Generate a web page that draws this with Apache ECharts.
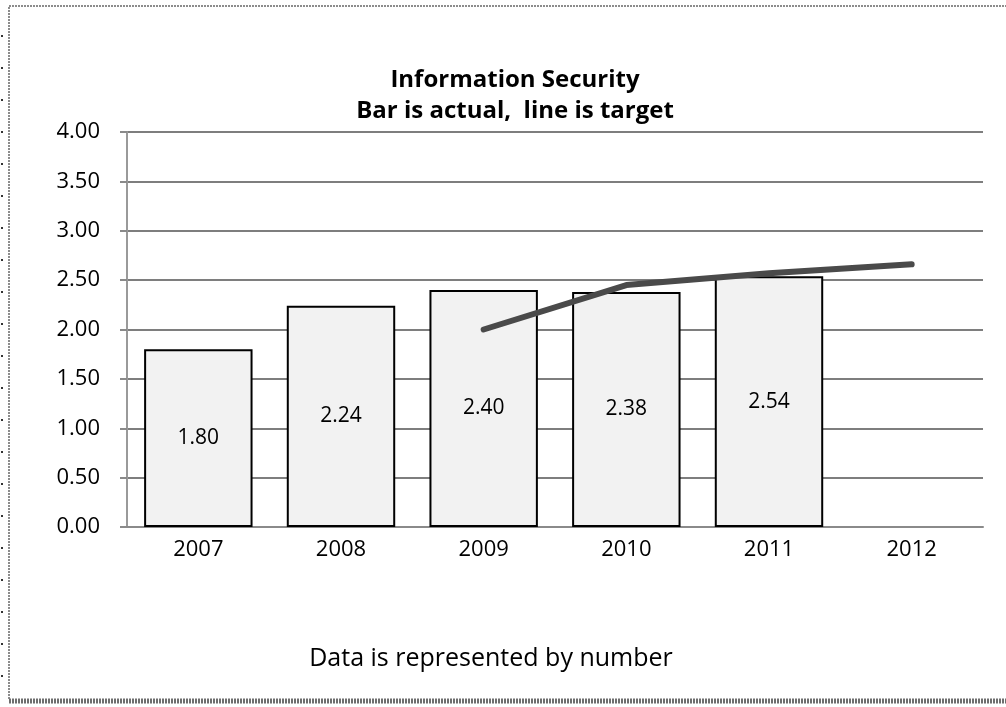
<!DOCTYPE html>
<html>
<head>
<meta charset="utf-8">
<script src="https://cdn.jsdelivr.net/npm/echarts@6/dist/echarts.min.js"></script>
<style>
  html, body { margin: 0; padding: 0; background: #fff; }
  #chart { width: 1006px; height: 707px; }
</style>
</head>
<body>
<div id="chart"></div>
<script>
// Yearly information security scores
const years = ['2007', '2008', '2009', '2010', '2011', '2012'];
const actual = [1.80, 2.24, 2.40, 2.38, 2.54, null];
const target = [null, null, 2.00, 2.45, 2.57, 2.66];
const yTicks = { min: 0, max: 4, interval: 0.5 };

const FONT = 'Open Sans';
const chart = echarts.init(document.getElementById('chart'), null, { renderer: 'canvas' });

// Frame around the chart and small marks along the left edge
const frame = [
  { type: 'rect', shape: { x: 9, y: 6, width: 1010, height: 694 },
    style: { fill: 'none', stroke: '#8c8c8c', lineWidth: 2, lineDash: [2, 1] }, silent: true },
  { type: 'line', shape: { x1: 9, y1: 701, x2: 1006, y2: 701 },
    style: { stroke: '#6e6e6e', lineWidth: 5, lineDash: [2, 1] }, silent: true }
];
for (let y = 35; y < 700; y += 32) {
  frame.push({ type: 'rect', shape: { x: 1, y: y, width: 2, height: 2 }, style: { fill: '#333' }, silent: true });
}

chart.setOption({
  animation: false,
  backgroundColor: '#fff',
  textStyle: { fontFamily: FONT },
  title: [
    { text: 'Information Security\nBar is actual,  line is target', left: 510, textAlign: 'center', top: 60,
      textStyle: { fontFamily: FONT, fontSize: 24, fontWeight: 'bold', color: '#000', lineHeight: 31 } },
    { text: 'Data is represented by number', left: 486, textAlign: 'center', top: 641,
      textStyle: { fontFamily: FONT, fontSize: 25, fontWeight: 'normal', color: '#000' } }
  ],
  grid: { left: 127, right: 23, top: 132, bottom: 180, containLabel: false },
  xAxis: {
    type: 'category',
    data: years,
    axisLine: { show: true, lineStyle: { color: '#8a8a8a', width: 2 } },
    axisTick: { show: false },
    axisLabel: { color: '#000', fontSize: 22, margin: 12, fontFamily: FONT }
  },
  yAxis: {
    type: 'value',
    min: yTicks.min, max: yTicks.max, interval: yTicks.interval,
    axisLine: { show: true, lineStyle: { color: '#9a9a9a', width: 2 } },
    axisTick: { show: true, length: 7, lineStyle: { color: '#8a8a8a', width: 2 } },
    axisLabel: { color: '#000', fontSize: 22, margin: 27, fontFamily: FONT,
      formatter: v => v.toFixed(2) },
    splitLine: { show: true, lineStyle: { color: '#7e7e7e', width: 2 } }
  },
  series: [
    {
      name: 'Actual', type: 'bar', data: actual,
      barCategoryGap: '24%',
      itemStyle: { color: '#f2f2f2', borderColor: '#000', borderWidth: 2 },
      label: { show: true, position: 'inside', color: '#000', fontSize: 21, fontFamily: FONT,
        formatter: p => p.value.toFixed(2) },
      z: 2
    },
    {
      name: 'Target', type: 'line', data: target,
      showSymbol: false, symbol: 'none',
      lineStyle: { color: '#4a4a4a', width: 6, cap: 'round', join: 'round' },
      z: 3
    }
  ],
  graphic: frame
});
</script>
</body>
</html>
